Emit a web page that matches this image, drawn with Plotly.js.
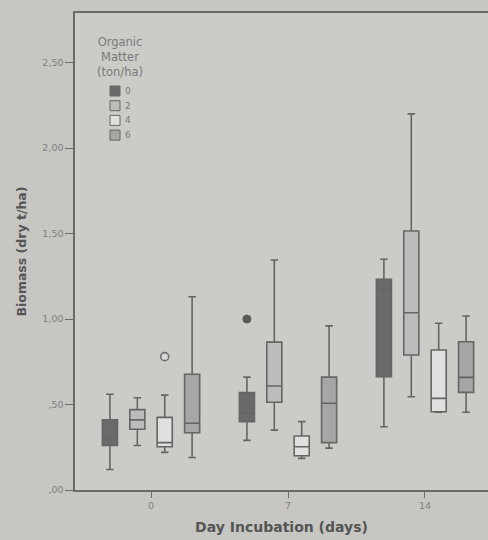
<!DOCTYPE html>
<html><head><meta charset="utf-8">
<script src="https://cdn.plot.ly/plotly-3.0.1.min.js"></script>
<style>html,body{margin:0;padding:0;background:#c6c6c2;overflow:hidden}#c{width:488px;height:540px}</style>
</head><body><div id="c"></div>
<script>
// Data
const days = ["0", "7", "14"];
const groups = ["0", "2", "4", "6"];
const legendTitle = "Organic<br>Matter<br>(ton/ha)";
const lowerFence = [[0.12, 0.26, 0.22, 0.19], [0.29, 0.35, 0.185, 0.245], [0.37, 0.545, 0.455, 0.455]];
const q1 =         [[0.26, 0.355, 0.253, 0.335], [0.40, 0.513, 0.20, 0.277], [0.663, 0.79, 0.458, 0.571]];
const median =     [[0.30, 0.41, 0.277, 0.39], [0.45, 0.608, 0.253, 0.507], [1.174, 1.037, 0.536, 0.659]];
const q3 =         [[0.41, 0.47, 0.425, 0.677], [0.57, 0.865, 0.316, 0.66], [1.232, 1.515, 0.819, 0.867]];
const upperFence = [[0.56, 0.54, 0.555, 1.13], [0.66, 1.345, 0.40, 0.96], [1.35, 2.20, 0.975, 1.018]];
// outliers
const outlierDay = [0, 1];
const outlierGroup = [2, 0];
const outlierValue = [0.78, 1.00];
const outlierFilled = [false, true];
const yTickVals = [0, 0.5, 1, 1.5, 2, 2.5];
const yTickText = [",00", ",50", "1,00", "1,50", "2,00", "2,50"];

const fills = ["#6a6a6a", "#bcbcba", "#e0e0de", "#a6a6a4"];
const slot = 0.2;
const offs = [-1.5, -0.5, 0.5, 1.5];
const lineCol = "#656565";
const FONT = "DejaVu Sans, Liberation Sans, Arial, sans-serif";

const traces = groups.map((g, gi) => ({
  type: "box",
  name: g,
  x: days.map((d, di) => di + offs[gi] * slot),
  q1: days.map((d, di) => q1[di][gi]),
  median: days.map((d, di) => median[di][gi]),
  q3: days.map((d, di) => q3[di][gi]),
  lowerfence: days.map((d, di) => lowerFence[di][gi]),
  upperfence: days.map((d, di) => upperFence[di][gi]),
  width: 0.11,
  whiskerwidth: 0.5,
  fillcolor: fills[gi],
  line: {color: lineCol, width: 1.6},
  boxpoints: false,
  showlegend: false,
  hoverinfo: "skip"
}));

outlierValue.forEach((v, i) => {
  traces.push({
    type: "scatter", mode: "markers", showlegend: false, hoverinfo: "skip",
    x: [outlierDay[i] + offs[outlierGroup[i]] * slot], y: [v],
    marker: outlierFilled[i]
      ? {size: 8, color: "#5a5a5a", line: {color: "#5a5a5a", width: 1}}
      : {size: 8, color: "#d8d8d6", line: {color: "#707070", width: 1.6}}
  });
});

// legend drawn in pixel space converted to paper coordinates
const M = {l: 75, r: 0, t: 13, b: 50}, W = 488, H = 540;
const pw = W - M.l - M.r, ph = H - M.t - M.b;
const px = x => (x - M.l) / pw;
const py = y => (H - M.b - y) / ph;

const shapes = [];
const annotations = [{
  xref: "paper", yref: "paper", x: px(120), y: py(33), xanchor: "center", yanchor: "top",
  text: legendTitle, showarrow: false, align: "center",
  font: {family: FONT, size: 11.5, color: "#7a7a7a"}
}];
groups.forEach((g, gi) => {
  const cy = 91 + gi * 14.7;
  shapes.push({type: "rect", xref: "paper", yref: "paper",
    x0: px(110), x1: px(120), y0: py(cy - 5), y1: py(cy + 5),
    fillcolor: fills[gi], line: {color: "#666", width: 1}});
  annotations.push({xref: "paper", yref: "paper", x: px(123), y: py(cy),
    xanchor: "left", yanchor: "middle", text: g, showarrow: false,
    font: {family: FONT, size: 9, color: "#777"}});
});

const layout = {
  width: W, height: H,
  margin: M,
  paper_bgcolor: "#c6c6c2",
  plot_bgcolor: "#cbcbc7",
  showlegend: false,
  font: {family: FONT, color: "#6a6a6a"},
  shapes: shapes,
  annotations: annotations,
  xaxis: {
    range: [-0.555, 2.46],
    tickvals: [0, 1, 2], ticktext: days,
    showgrid: false, zeroline: false,
    showline: true, linecolor: "#6a6a6a", linewidth: 1.6, mirror: true,
    ticks: "outside", ticklen: 6, tickcolor: "#6a6a6a",
    tickfont: {family: FONT, size: 9.5, color: "#808080"},
    title: {text: "Day Incubation (days)", font: {size: 14, color: "#555", family: FONT, weight: "bold"}, standoff: 12}
  },
  yaxis: {
    range: [0, 2.79],
    tickvals: yTickVals, ticktext: yTickText,
    showgrid: false, zeroline: false,
    showline: true, linecolor: "#6a6a6a", linewidth: 1.6,
    ticks: "outside", ticklen: 8, tickcolor: "#6a6a6a",
    tickfont: {family: FONT, size: 9.5, color: "#808080"},
    title: {text: "Biomass (dry t/ha)", font: {size: 12.5, color: "#555", family: FONT, weight: "bold"}, standoff: 13}
  }
};

Plotly.newPlot("c", traces, layout, {displayModeBar: false, staticPlot: true});
</script></body></html>
